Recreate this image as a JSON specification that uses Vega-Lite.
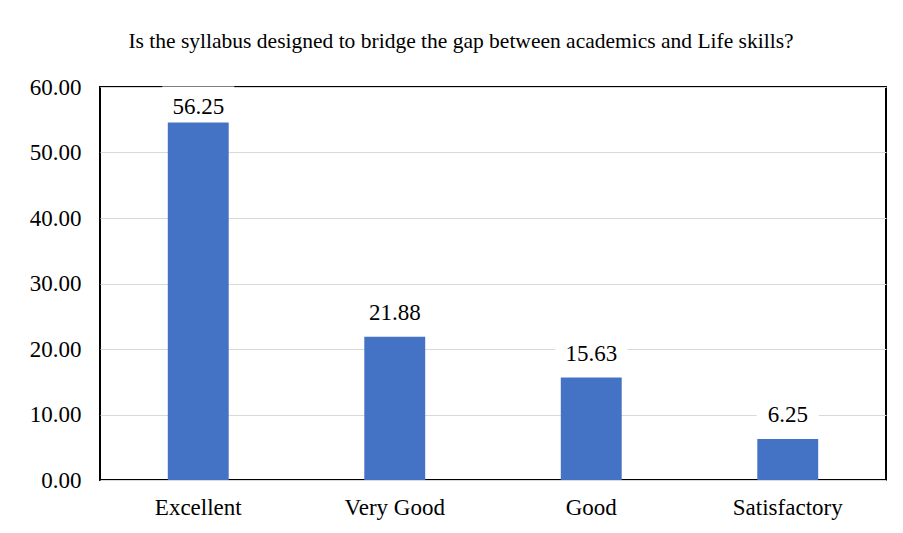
{
  "$schema": "https://vega.github.io/schema/vega-lite/v6.json",
  "width": 786,
  "height": 393,
  "autosize": {"type": "none"},
  "padding": {"left": 100, "top": 87, "right": 17, "bottom": 53},
  "background": "white",
  "title": {
    "text": "Is the syllabus designed to bridge the gap between academics and Life skills?",
    "font": "Liberation Serif",
    "fontSize": 21.5,
    "fontWeight": "normal",
    "color": "black",
    "anchor": "middle",
    "dx": -32,
    "offset": 24
  },
  "config": {
    "font": "Liberation Serif",
    "view": {"stroke": "black", "strokeWidth": 2},
    "axis": {"labelFont": "Liberation Serif", "labelColor": "black", "labelFontSize": 23, "ticks": false, "domain": false, "title": null}
  },
  "data": {
    "values": [
      {"category": "Excellent", "value": 56.25},
      {"category": "Very Good", "value": 21.88},
      {"category": "Good", "value": 15.63},
      {"category": "Satisfactory", "value": 6.25}
    ]
  },
  "encoding": {
    "x": {
      "field": "category",
      "type": "nominal",
      "sort": null,
      "scale": {"paddingInner": 0, "paddingOuter": 0},
      "axis": {"labelAngle": 0, "labelPadding": 16, "grid": false}
    },
    "y": {
      "field": "value",
      "type": "quantitative",
      "scale": {"domain": [0, 60], "nice": false},
      "axis": {"values": [0, 10, 20, 30, 40, 50, 60], "format": ".2f", "labelPadding": 19, "grid": true, "gridColor": "#D9D9D9", "gridWidth": 1}
    }
  },
  "layer": [
    {"mark": {"type": "bar", "color": "#4472C4", "width": {"band": 0.31}}},
    {
      "transform": [{"filter": "datum.value > 50"}],
      "mark": {"type": "point", "filled": true, "color": "white", "opacity": 1, "strokeWidth": 0, "size": 4, "shape": "M-36,-25H36V11H-36Z"}
    },
    {
      "transform": [{"filter": "datum.value <= 50 && datum.value >= 10"}],
      "mark": {"type": "point", "filled": true, "color": "white", "opacity": 1, "strokeWidth": 0, "size": 4, "shape": "M-36,-42H36V-6H-36Z"}
    },
    {
      "transform": [{"filter": "datum.value < 10"}],
      "mark": {"type": "point", "filled": true, "color": "white", "opacity": 1, "strokeWidth": 0, "size": 4, "shape": "M-31,-42H31V-6H-31Z"}
    },
    {
      "transform": [{"filter": "datum.value > 50"}],
      "mark": {"type": "text", "font": "Liberation Serif", "fontSize": 23, "color": "black", "baseline": "middle", "dy": -5},
      "encoding": {"text": {"field": "value", "type": "quantitative", "format": ".2f"}}
    },
    {
      "transform": [{"filter": "datum.value <= 50"}],
      "mark": {"type": "text", "font": "Liberation Serif", "fontSize": 23, "color": "black", "baseline": "middle", "dy": -24},
      "encoding": {"text": {"field": "value", "type": "quantitative", "format": ".2f"}}
    }
  ]
}
